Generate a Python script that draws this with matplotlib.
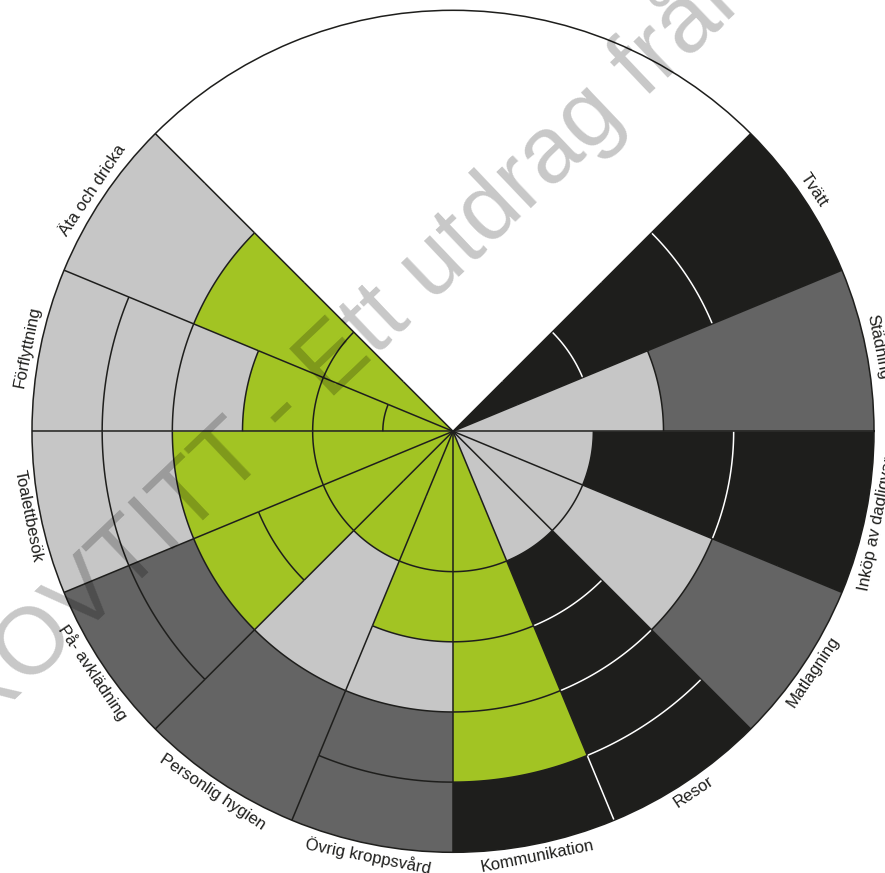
import numpy as np
import matplotlib
matplotlib.use('Agg')
import matplotlib.pyplot as plt

plt.rcParams['font.family'] = ['Liberation Sans', 'DejaVu Sans']

# sectors, clockwise from 45 deg (the 45-135 deg quarter is left empty)
categories = ['Tvätt', 'Städning', 'Inköp av dagligvaror', 'Matlagning', 'Resor',
              'Kommunikation', 'Övrig kroppsvård', 'Personlig hygien', 'På- avklädning',
              'Toalettbesök', 'Förflyttning', 'Äta och dricka']

# outer edge of each ring segment (levels 1..6) and its colour code
ring_ends = [
    [2, 4, 6],
    [3, 6],
    [2, 4, 6],
    [2, 4, 6],
    [2, 3, 4, 5, 6],
    [2, 3, 4, 5, 6],
    [2, 3, 4, 5, 6],
    [2, 4, 6],
    [2, 3, 4, 5, 6],
    [2, 4, 5, 6],
    [1, 2, 3, 4, 5, 6],
    [2, 4, 6],
]
ring_colors = ['KKK', 'LD', 'LKK', 'LLD', 'LKKKK', 'GGGGK', 'GGLDD', 'GLD',
               'GGGDD', 'GGLL', 'GGGLLL', 'GGL']

palette = {'G': '#a2c423', 'L': '#c6c6c6', 'D': '#646464', 'K': '#1e1e1c', 'W': 'white'}

start = 45.0
step = 22.5
n_lev = 6
lw = 1.1

fig = plt.figure(figsize=(8.85, 8.73), dpi=100)
ax = fig.add_axes([32 / 885, 20.7 / 873, 842 / 885, 842 / 873], projection='polar')
ax.set_ylim(0, n_lev)
ax.set_xticks([])
ax.set_yticks([])
ax.grid(False)
ax.spines['polar'].set_linewidth(lw)
ax.spines['polar'].set_color('#1e1e1c')

# colour per level for every sector
grid = []
for ends, cols in zip(ring_ends, ring_colors):
    row = []
    lo = 0
    for e, c in zip(ends, cols):
        row += [c] * (e - lo)
        lo = e
    grid.append(row)

for i, cat in enumerate(categories):
    hi = start - step * i
    mid = np.deg2rad(hi - step / 2)
    bottom = 0
    segs = list(zip(ring_ends[i], ring_colors[i]))
    for k, (end, c) in enumerate(segs):
        ax.bar(mid, end - bottom, width=np.deg2rad(step), bottom=bottom,
               color=palette[c], edgecolor='none', linewidth=0, zorder=1)
        if end < n_lev:
            nxt = segs[k + 1][1]
            lc = 'white' if (c == 'K' and nxt == 'K') else '#1e1e1c'
            th = np.linspace(np.deg2rad(hi - step), np.deg2rad(hi), 40)
            ax.plot(th, [end] * len(th), color=lc, lw=lw, zorder=3 if lc == '#1e1e1c' else 2,
                    solid_capstyle='butt')
        bottom = end

    # label along the rim
    m = (hi - step / 2 + 180) % 360 - 180
    rot = m - 90 if m > 0 else m + 90
    ax.text(np.deg2rad(m), 6.18, cat, rotation=rot, rotation_mode='anchor',
            ha='center', va='center', fontsize=12, color='#1e1e1c', zorder=5)

# radial boundaries
n = len(categories)
for j in range(n + 1):
    ang = np.deg2rad(start - step * j)
    for k in range(n_lev):
        ca = grid[j - 1][k] if j > 0 else 'W'
        cb = grid[j][k] if j < n else 'W'
        white = ca == 'K' and cb == 'K'
        ax.plot([ang, ang], [k, k + 1], color='white' if white else '#1e1e1c', lw=lw,
                zorder=2 if white else 3, solid_capstyle='butt')

# watermark
fig.text(-69 / 885, (873 - 780) / 873, 'PROVTITT - Ett utdrag från boken', rotation=43.6,
         rotation_mode='anchor', ha='left', va='baseline', fontsize=68,
         color='black', alpha=0.22, zorder=10)

fig.savefig('out.png', dpi=100, facecolor='white')
